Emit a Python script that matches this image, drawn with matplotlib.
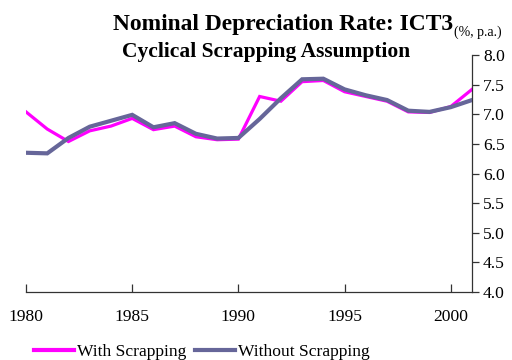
import matplotlib
matplotlib.use("Agg")
import matplotlib.pyplot as plt
from matplotlib.lines import Line2D

years = list(range(1980, 2002))
with_scrapping = [7.04, 6.75, 6.54, 6.72, 6.80, 6.93, 6.74, 6.80, 6.62, 6.57, 6.58,
                  7.30, 7.22, 7.55, 7.57, 7.38, 7.30, 7.22, 7.04, 7.03, 7.13, 7.42]
without_scrapping = [6.35, 6.34, 6.60, 6.79, 6.89, 6.99, 6.78, 6.85, 6.67, 6.59, 6.60,
                     6.92, 7.27, 7.59, 7.60, 7.42, 7.32, 7.24, 7.06, 7.04, 7.12, 7.24]
x_ticks = [1980, 1985, 1990, 1995, 2000]
y_ticks = [4.0, 4.5, 5.0, 5.5, 6.0, 6.5, 7.0, 7.5, 8.0]

MAGENTA = "#ff00ff"
SLATE = "#666699"
SERIF = ["Liberation Serif", "DejaVu Serif"]

plt.rcParams["font.family"] = SERIF

fig = plt.figure(figsize=(5.12, 3.6), dpi=100, facecolor="white")
ax = fig.add_axes([0.0508, 0.1889, 0.8711, 0.6583])

ax.plot(years, with_scrapping, color=MAGENTA, lw=2.3, solid_joinstyle="miter", zorder=2)
ax.plot(years, without_scrapping, color=SLATE, lw=3.0, solid_joinstyle="miter", zorder=3)

ax.set_xlim(1980, 2001)
ax.set_ylim(4.0, 8.0)
ax.set_xticks(x_ticks)
ax.set_yticks(y_ticks)
ax.set_yticklabels([f"{v:.1f}" for v in y_ticks])

ax.yaxis.tick_right()
ax.spines["left"].set_visible(False)
ax.spines["top"].set_visible(False)
for s in ("right", "bottom"):
    ax.spines[s].set_color("#333333")
    ax.spines[s].set_linewidth(0.9)
ax.tick_params(axis="y", direction="out", length=5, width=0.9, color="#333333",
               labelsize=12.6, pad=3)
ax.tick_params(axis="x", direction="in", length=6, width=0.9, color="#333333",
               labelsize=12.6, pad=12)

# title, unit set as a subscript right after the first line
t1 = fig.text(0.221, 0.917, "Nominal Depreciation Rate: ICT3", fontsize=16.9,
              fontweight="bold", ha="left", va="baseline")
fig.canvas.draw()
bb = t1.get_window_extent()
x_end = fig.transFigure.inverted().transform((bb.x1, bb.y0))[0]
fig.text(x_end + 0.002, 0.900, "(%, p.a.)", fontsize=10, ha="left", va="baseline")
fig.text(0.52, 0.842, "Cyclical Scrapping Assumption", fontsize=15.5,
         fontweight="bold", ha="center", va="baseline")

handles = [Line2D([], [], color=MAGENTA, lw=3.0),
           Line2D([], [], color=SLATE, lw=3.0)]
fig.legend(handles, ["With Scrapping", "Without Scrapping"], loc="center",
           bbox_to_anchor=(0.394, 0.022), ncol=2, frameon=False, fontsize=12.6,
           handlelength=2.3, handletextpad=0.15, columnspacing=0.5,
           borderpad=0, borderaxespad=0)

fig.savefig("out.png", dpi=100, facecolor="white")
